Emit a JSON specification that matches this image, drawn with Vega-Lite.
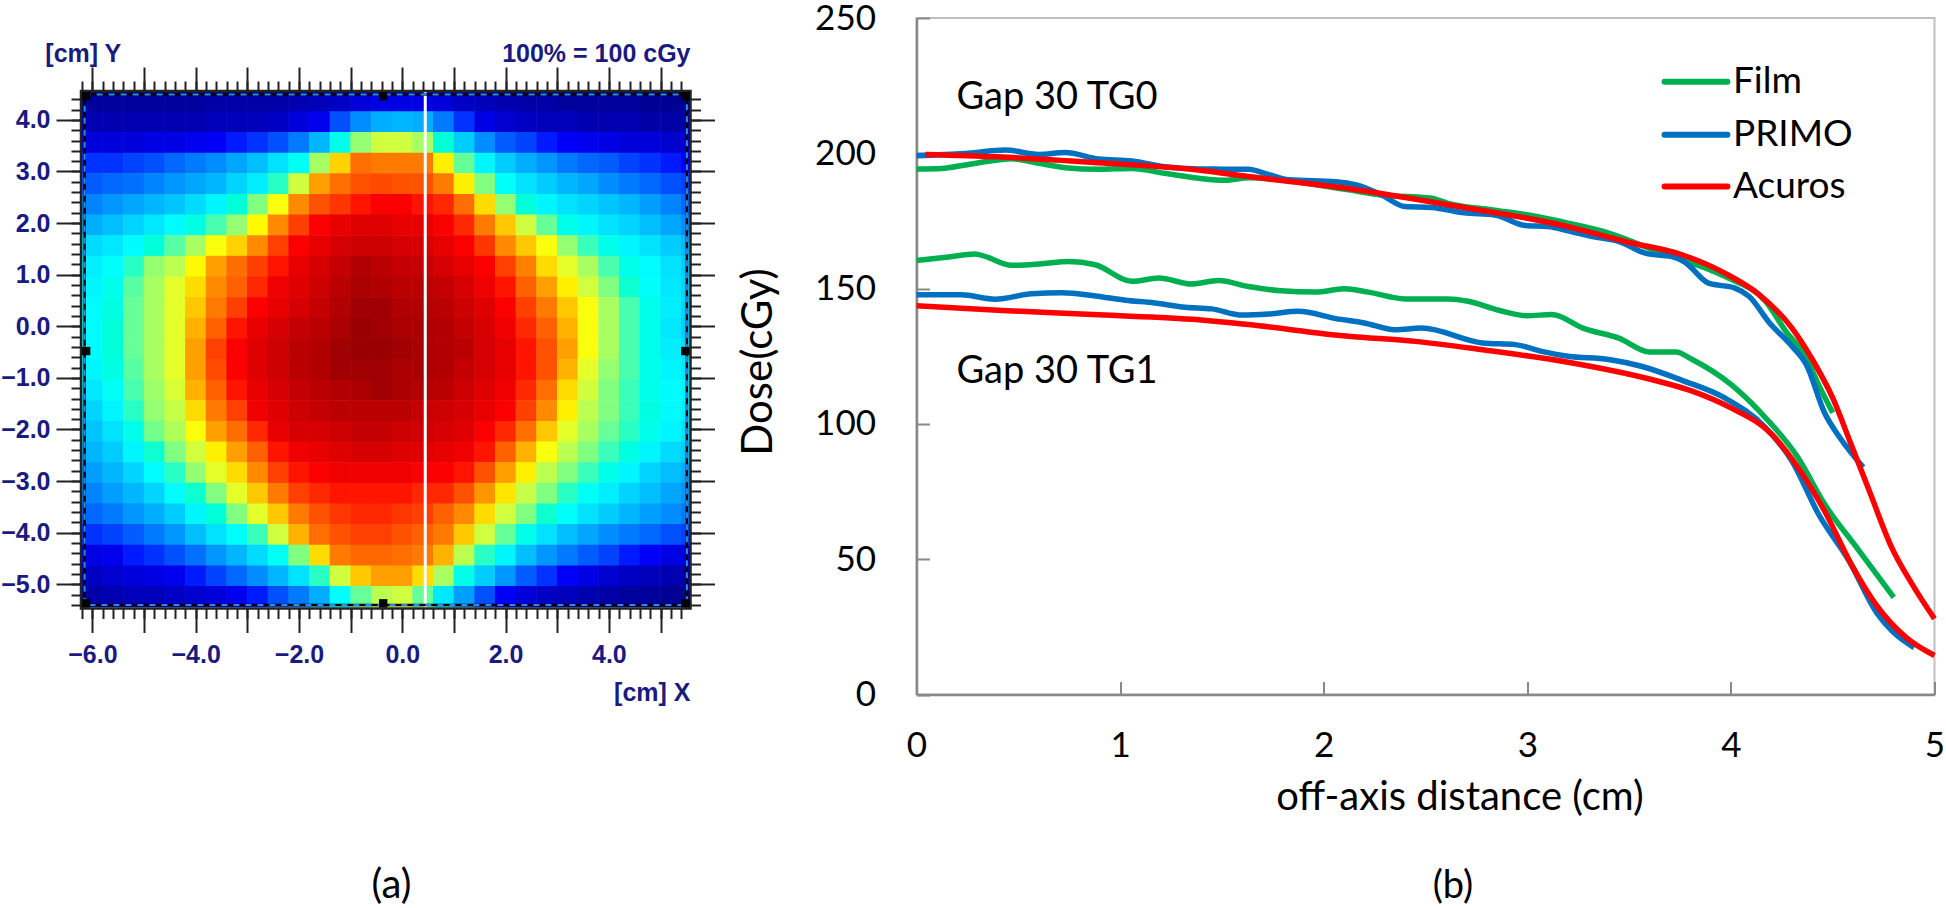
{"$schema":"https://vega.github.io/schema/vega-lite/v6.json","padding":0,"background":"white","bounds":"flush","spacing":835.5,"config":{"view":{"stroke":null},"axis":{"grid":false}},
"datasets":{"heat":[
{"x":-6,"y":4.36,"v":3},{"x":-5.6,"y":4.36,"v":3},{"x":-5.2,"y":4.36,"v":3},{"x":-4.8,"y":4.36,"v":3},{"x":-4.4,"y":4.36,"v":3},{"x":-4,"y":4.36,"v":3},{"x":-3.6,"y":4.36,"v":4},{"x":-3.2,"y":4.36,"v":4},{"x":-2.8,"y":4.36,"v":4},{"x":-2.4,"y":4.36,"v":4},{"x":-2,"y":4.36,"v":5},{"x":-1.6,"y":4.36,"v":6},{"x":-1.2,"y":4.36,"v":7},{"x":-0.8,"y":4.36,"v":9},{"x":-0.4,"y":4.36,"v":10},{"x":0,"y":4.36,"v":10},{"x":0.4,"y":4.36,"v":10},{"x":0.8,"y":4.36,"v":9},{"x":1.2,"y":4.36,"v":7},{"x":1.6,"y":4.36,"v":6},{"x":2,"y":4.36,"v":5},{"x":2.4,"y":4.36,"v":4},{"x":2.8,"y":4.36,"v":4},{"x":3.2,"y":4.36,"v":3},{"x":3.6,"y":4.36,"v":3},{"x":4,"y":4.36,"v":3},{"x":4.4,"y":4.36,"v":3},{"x":4.8,"y":4.36,"v":2},{"x":5.2,"y":4.36,"v":2},{"x":5.6,"y":4.36,"v":2},
{"x":-6,"y":3.96,"v":5},{"x":-5.6,"y":3.96,"v":5},{"x":-5.2,"y":3.96,"v":5},{"x":-4.8,"y":3.96,"v":5},{"x":-4.4,"y":3.96,"v":5},{"x":-4,"y":3.96,"v":5},{"x":-3.6,"y":3.96,"v":6},{"x":-3.2,"y":3.96,"v":6},{"x":-2.8,"y":3.96,"v":6},{"x":-2.4,"y":3.96,"v":7},{"x":-2,"y":3.96,"v":9},{"x":-1.6,"y":3.96,"v":11},{"x":-1.2,"y":3.96,"v":16},{"x":-0.8,"y":3.96,"v":22},{"x":-0.4,"y":3.96,"v":26},{"x":0,"y":3.96,"v":27},{"x":0.4,"y":3.96,"v":26},{"x":0.8,"y":3.96,"v":20},{"x":1.2,"y":3.96,"v":14},{"x":1.6,"y":3.96,"v":10},{"x":2,"y":3.96,"v":8},{"x":2.4,"y":3.96,"v":7},{"x":2.8,"y":3.96,"v":6},{"x":3.2,"y":3.96,"v":6},{"x":3.6,"y":3.96,"v":5},{"x":4,"y":3.96,"v":5},{"x":4.4,"y":3.96,"v":5},{"x":4.8,"y":3.96,"v":4},{"x":5.2,"y":3.96,"v":4},{"x":5.6,"y":3.96,"v":4},
{"x":-6,"y":3.56,"v":9},{"x":-5.6,"y":3.56,"v":9},{"x":-5.2,"y":3.56,"v":9},{"x":-4.8,"y":3.56,"v":10},{"x":-4.4,"y":3.56,"v":10},{"x":-4,"y":3.56,"v":11},{"x":-3.6,"y":3.56,"v":12},{"x":-3.2,"y":3.56,"v":13},{"x":-2.8,"y":3.56,"v":14},{"x":-2.4,"y":3.56,"v":16},{"x":-2,"y":3.56,"v":20},{"x":-1.6,"y":3.56,"v":27},{"x":-1.2,"y":3.56,"v":40},{"x":-0.8,"y":3.56,"v":52},{"x":-0.4,"y":3.56,"v":58},{"x":0,"y":3.56,"v":58},{"x":0.4,"y":3.56,"v":54},{"x":0.8,"y":3.56,"v":42},{"x":1.2,"y":3.56,"v":30},{"x":1.6,"y":3.56,"v":22},{"x":2,"y":3.56,"v":17},{"x":2.4,"y":3.56,"v":15},{"x":2.8,"y":3.56,"v":13},{"x":3.2,"y":3.56,"v":12},{"x":3.6,"y":3.56,"v":11},{"x":4,"y":3.56,"v":10},{"x":4.4,"y":3.56,"v":9},{"x":4.8,"y":3.56,"v":9},{"x":5.2,"y":3.56,"v":8},{"x":5.6,"y":3.56,"v":8},
{"x":-6,"y":3.16,"v":14},{"x":-5.6,"y":3.16,"v":14},{"x":-5.2,"y":3.16,"v":15},{"x":-4.8,"y":3.16,"v":16},{"x":-4.4,"y":3.16,"v":18},{"x":-4,"y":3.16,"v":20},{"x":-3.6,"y":3.16,"v":22},{"x":-3.2,"y":3.16,"v":25},{"x":-2.8,"y":3.16,"v":28},{"x":-2.4,"y":3.16,"v":33},{"x":-2,"y":3.16,"v":39},{"x":-1.6,"y":3.16,"v":54},{"x":-1.2,"y":3.16,"v":67},{"x":-0.8,"y":3.16,"v":78},{"x":-0.4,"y":3.16,"v":76},{"x":0,"y":3.16,"v":76},{"x":0.4,"y":3.16,"v":76},{"x":0.8,"y":3.16,"v":64},{"x":1.2,"y":3.16,"v":48},{"x":1.6,"y":3.16,"v":36},{"x":2,"y":3.16,"v":30},{"x":2.4,"y":3.16,"v":26},{"x":2.8,"y":3.16,"v":23},{"x":3.2,"y":3.16,"v":20},{"x":3.6,"y":3.16,"v":18},{"x":4,"y":3.16,"v":17},{"x":4.4,"y":3.16,"v":15},{"x":4.8,"y":3.16,"v":14},{"x":5.2,"y":3.16,"v":13},{"x":5.6,"y":3.16,"v":12},
{"x":-6,"y":2.76,"v":17},{"x":-5.6,"y":2.76,"v":18},{"x":-5.2,"y":2.76,"v":19},{"x":-4.8,"y":2.76,"v":21},{"x":-4.4,"y":2.76,"v":23},{"x":-4,"y":2.76,"v":25},{"x":-3.6,"y":2.76,"v":27},{"x":-3.2,"y":2.76,"v":31},{"x":-2.8,"y":2.76,"v":35},{"x":-2.4,"y":2.76,"v":44},{"x":-2,"y":2.76,"v":58},{"x":-1.6,"y":2.76,"v":72},{"x":-1.2,"y":2.76,"v":78},{"x":-0.8,"y":2.76,"v":82},{"x":-0.4,"y":2.76,"v":83},{"x":0,"y":2.76,"v":82},{"x":0.4,"y":2.76,"v":82},{"x":0.8,"y":2.76,"v":76},{"x":1.2,"y":2.76,"v":64},{"x":1.6,"y":2.76,"v":50},{"x":2,"y":2.76,"v":38},{"x":2.4,"y":2.76,"v":33},{"x":2.8,"y":2.76,"v":30},{"x":3.2,"y":2.76,"v":27},{"x":3.6,"y":2.76,"v":25},{"x":4,"y":2.76,"v":22},{"x":4.4,"y":2.76,"v":20},{"x":4.8,"y":2.76,"v":18},{"x":5.2,"y":2.76,"v":16},{"x":5.6,"y":2.76,"v":15},
{"x":-6,"y":2.36,"v":21},{"x":-5.6,"y":2.36,"v":23},{"x":-5.2,"y":2.36,"v":25},{"x":-4.8,"y":2.36,"v":27},{"x":-4.4,"y":2.36,"v":29},{"x":-4,"y":2.36,"v":32},{"x":-3.6,"y":2.36,"v":36},{"x":-3.2,"y":2.36,"v":42},{"x":-2.8,"y":2.36,"v":50},{"x":-2.4,"y":2.36,"v":62},{"x":-2,"y":2.36,"v":74},{"x":-1.6,"y":2.36,"v":82},{"x":-1.2,"y":2.36,"v":85},{"x":-0.8,"y":2.36,"v":87},{"x":-0.4,"y":2.36,"v":88},{"x":0,"y":2.36,"v":88},{"x":0.4,"y":2.36,"v":87},{"x":0.8,"y":2.36,"v":86},{"x":1.2,"y":2.36,"v":78},{"x":1.6,"y":2.36,"v":66},{"x":2,"y":2.36,"v":52},{"x":2.4,"y":2.36,"v":42},{"x":2.8,"y":2.36,"v":36},{"x":3.2,"y":2.36,"v":33},{"x":3.6,"y":2.36,"v":31},{"x":4,"y":2.36,"v":29},{"x":4.4,"y":2.36,"v":27},{"x":4.8,"y":2.36,"v":24},{"x":5.2,"y":2.36,"v":21},{"x":5.6,"y":2.36,"v":18},
{"x":-6,"y":1.96,"v":26},{"x":-5.6,"y":1.96,"v":28},{"x":-5.2,"y":1.96,"v":31},{"x":-4.8,"y":1.96,"v":34},{"x":-4.4,"y":1.96,"v":37},{"x":-4,"y":1.96,"v":41},{"x":-3.6,"y":1.96,"v":46},{"x":-3.2,"y":1.96,"v":52},{"x":-2.8,"y":1.96,"v":63},{"x":-2.4,"y":1.96,"v":74},{"x":-2,"y":1.96,"v":84},{"x":-1.6,"y":1.96,"v":88},{"x":-1.2,"y":1.96,"v":90},{"x":-0.8,"y":1.96,"v":91},{"x":-0.4,"y":1.96,"v":91},{"x":0,"y":1.96,"v":90},{"x":0.4,"y":1.96,"v":90},{"x":0.8,"y":1.96,"v":88},{"x":1.2,"y":1.96,"v":86},{"x":1.6,"y":1.96,"v":76},{"x":2,"y":1.96,"v":68},{"x":2.4,"y":1.96,"v":58},{"x":2.8,"y":1.96,"v":48},{"x":3.2,"y":1.96,"v":40},{"x":3.6,"y":1.96,"v":36},{"x":4,"y":1.96,"v":33},{"x":4.4,"y":1.96,"v":31},{"x":4.8,"y":1.96,"v":28},{"x":5.2,"y":1.96,"v":25},{"x":5.6,"y":1.96,"v":22},
{"x":-6,"y":1.56,"v":32},{"x":-5.6,"y":1.56,"v":34},{"x":-5.2,"y":1.56,"v":37},{"x":-4.8,"y":1.56,"v":42},{"x":-4.4,"y":1.56,"v":47},{"x":-4,"y":1.56,"v":54},{"x":-3.6,"y":1.56,"v":62},{"x":-3.2,"y":1.56,"v":67},{"x":-2.8,"y":1.56,"v":74},{"x":-2.4,"y":1.56,"v":84},{"x":-2,"y":1.56,"v":88},{"x":-1.6,"y":1.56,"v":90},{"x":-1.2,"y":1.56,"v":92},{"x":-0.8,"y":1.56,"v":93},{"x":-0.4,"y":1.56,"v":93},{"x":0,"y":1.56,"v":92},{"x":0.4,"y":1.56,"v":92},{"x":0.8,"y":1.56,"v":90},{"x":1.2,"y":1.56,"v":88},{"x":1.6,"y":1.56,"v":85},{"x":2,"y":1.56,"v":74},{"x":2.4,"y":1.56,"v":68},{"x":2.8,"y":1.56,"v":62},{"x":3.2,"y":1.56,"v":52},{"x":3.6,"y":1.56,"v":45},{"x":4,"y":1.56,"v":40},{"x":4.4,"y":1.56,"v":36},{"x":4.8,"y":1.56,"v":33},{"x":5.2,"y":1.56,"v":30},{"x":5.6,"y":1.56,"v":27},
{"x":-6,"y":1.16,"v":35},{"x":-5.6,"y":1.16,"v":38},{"x":-5.2,"y":1.16,"v":44},{"x":-4.8,"y":1.16,"v":52},{"x":-4.4,"y":1.16,"v":56},{"x":-4,"y":1.16,"v":63},{"x":-3.6,"y":1.16,"v":72},{"x":-3.2,"y":1.16,"v":78},{"x":-2.8,"y":1.16,"v":84},{"x":-2.4,"y":1.16,"v":87},{"x":-2,"y":1.16,"v":90},{"x":-1.6,"y":1.16,"v":92},{"x":-1.2,"y":1.16,"v":94},{"x":-0.8,"y":1.16,"v":96},{"x":-0.4,"y":1.16,"v":95},{"x":0,"y":1.16,"v":94},{"x":0.4,"y":1.16,"v":94},{"x":0.8,"y":1.16,"v":92},{"x":1.2,"y":1.16,"v":90},{"x":1.6,"y":1.16,"v":88},{"x":2,"y":1.16,"v":84},{"x":2.4,"y":1.16,"v":75},{"x":2.8,"y":1.16,"v":66},{"x":3.2,"y":1.16,"v":60},{"x":3.6,"y":1.16,"v":54},{"x":4,"y":1.16,"v":46},{"x":4.4,"y":1.16,"v":40},{"x":4.8,"y":1.16,"v":37},{"x":5.2,"y":1.16,"v":33},{"x":5.6,"y":1.16,"v":30},
{"x":-6,"y":0.76,"v":36},{"x":-5.6,"y":0.76,"v":40},{"x":-5.2,"y":0.76,"v":47},{"x":-4.8,"y":0.76,"v":54},{"x":-4.4,"y":0.76,"v":60},{"x":-4,"y":0.76,"v":66},{"x":-3.6,"y":0.76,"v":74},{"x":-3.2,"y":0.76,"v":80},{"x":-2.8,"y":0.76,"v":86},{"x":-2.4,"y":0.76,"v":89},{"x":-2,"y":0.76,"v":91},{"x":-1.6,"y":0.76,"v":93},{"x":-1.2,"y":0.76,"v":95},{"x":-0.8,"y":0.76,"v":97},{"x":-0.4,"y":0.76,"v":96},{"x":0,"y":0.76,"v":95},{"x":0.4,"y":0.76,"v":95},{"x":0.8,"y":0.76,"v":94},{"x":1.2,"y":0.76,"v":92},{"x":1.6,"y":0.76,"v":89},{"x":2,"y":0.76,"v":87},{"x":2.4,"y":0.76,"v":80},{"x":2.8,"y":0.76,"v":72},{"x":3.2,"y":0.76,"v":64},{"x":3.6,"y":0.76,"v":58},{"x":4,"y":0.76,"v":50},{"x":4.4,"y":0.76,"v":43},{"x":4.8,"y":0.76,"v":38},{"x":5.2,"y":0.76,"v":34},{"x":5.6,"y":0.76,"v":31},
{"x":-6,"y":0.36,"v":37},{"x":-5.6,"y":0.36,"v":41},{"x":-5.2,"y":0.36,"v":48},{"x":-4.8,"y":0.36,"v":54},{"x":-4.4,"y":0.36,"v":60},{"x":-4,"y":0.36,"v":68},{"x":-3.6,"y":0.36,"v":76},{"x":-3.2,"y":0.36,"v":84},{"x":-2.8,"y":0.36,"v":88},{"x":-2.4,"y":0.36,"v":90},{"x":-2,"y":0.36,"v":92},{"x":-1.6,"y":0.36,"v":94},{"x":-1.2,"y":0.36,"v":96},{"x":-0.8,"y":0.36,"v":98},{"x":-0.4,"y":0.36,"v":98},{"x":0,"y":0.36,"v":96},{"x":0.4,"y":0.36,"v":96},{"x":0.8,"y":0.36,"v":95},{"x":1.2,"y":0.36,"v":93},{"x":1.6,"y":0.36,"v":91},{"x":2,"y":0.36,"v":88},{"x":2.4,"y":0.36,"v":84},{"x":2.8,"y":0.36,"v":76},{"x":3.2,"y":0.36,"v":68},{"x":3.6,"y":0.36,"v":62},{"x":4,"y":0.36,"v":54},{"x":4.4,"y":0.36,"v":46},{"x":4.8,"y":0.36,"v":40},{"x":5.2,"y":0.36,"v":35},{"x":5.6,"y":0.36,"v":31},
{"x":-6,"y":-0.04,"v":37},{"x":-5.6,"y":-0.04,"v":42},{"x":-5.2,"y":-0.04,"v":48},{"x":-4.8,"y":-0.04,"v":54},{"x":-4.4,"y":-0.04,"v":60},{"x":-4,"y":-0.04,"v":70},{"x":-3.6,"y":-0.04,"v":80},{"x":-3.2,"y":-0.04,"v":87},{"x":-2.8,"y":-0.04,"v":90},{"x":-2.4,"y":-0.04,"v":92},{"x":-2,"y":-0.04,"v":94},{"x":-1.6,"y":-0.04,"v":95},{"x":-1.2,"y":-0.04,"v":97},{"x":-0.8,"y":-0.04,"v":99},{"x":-0.4,"y":-0.04,"v":98},{"x":0,"y":-0.04,"v":97},{"x":0.4,"y":-0.04,"v":97},{"x":0.8,"y":-0.04,"v":96},{"x":1.2,"y":-0.04,"v":94},{"x":1.6,"y":-0.04,"v":92},{"x":2,"y":-0.04,"v":89},{"x":2.4,"y":-0.04,"v":86},{"x":2.8,"y":-0.04,"v":80},{"x":3.2,"y":-0.04,"v":70},{"x":3.6,"y":-0.04,"v":62},{"x":4,"y":-0.04,"v":54},{"x":4.4,"y":-0.04,"v":46},{"x":4.8,"y":-0.04,"v":40},{"x":5.2,"y":-0.04,"v":34},{"x":5.6,"y":-0.04,"v":30},
{"x":-6,"y":-0.44,"v":37},{"x":-5.6,"y":-0.44,"v":42},{"x":-5.2,"y":-0.44,"v":48},{"x":-4.8,"y":-0.44,"v":54},{"x":-4.4,"y":-0.44,"v":60},{"x":-4,"y":-0.44,"v":72},{"x":-3.6,"y":-0.44,"v":84},{"x":-3.2,"y":-0.44,"v":88},{"x":-2.8,"y":-0.44,"v":91},{"x":-2.4,"y":-0.44,"v":93},{"x":-2,"y":-0.44,"v":95},{"x":-1.6,"y":-0.44,"v":96},{"x":-1.2,"y":-0.44,"v":98},{"x":-0.8,"y":-0.44,"v":99},{"x":-0.4,"y":-0.44,"v":99},{"x":0,"y":-0.44,"v":98},{"x":0.4,"y":-0.44,"v":97},{"x":0.8,"y":-0.44,"v":96},{"x":1.2,"y":-0.44,"v":95},{"x":1.6,"y":-0.44,"v":92},{"x":2,"y":-0.44,"v":90},{"x":2.4,"y":-0.44,"v":87},{"x":2.8,"y":-0.44,"v":82},{"x":3.2,"y":-0.44,"v":72},{"x":3.6,"y":-0.44,"v":62},{"x":4,"y":-0.44,"v":54},{"x":4.4,"y":-0.44,"v":46},{"x":4.8,"y":-0.44,"v":40},{"x":5.2,"y":-0.44,"v":35},{"x":5.6,"y":-0.44,"v":32},
{"x":-6,"y":-0.84,"v":36},{"x":-5.6,"y":-0.84,"v":41},{"x":-5.2,"y":-0.84,"v":47},{"x":-4.8,"y":-0.84,"v":54},{"x":-4.4,"y":-0.84,"v":60},{"x":-4,"y":-0.84,"v":72},{"x":-3.6,"y":-0.84,"v":83},{"x":-3.2,"y":-0.84,"v":88},{"x":-2.8,"y":-0.84,"v":91},{"x":-2.4,"y":-0.84,"v":93},{"x":-2,"y":-0.84,"v":95},{"x":-1.6,"y":-0.84,"v":96},{"x":-1.2,"y":-0.84,"v":98},{"x":-0.8,"y":-0.84,"v":98},{"x":-0.4,"y":-0.84,"v":98},{"x":0,"y":-0.84,"v":97},{"x":0.4,"y":-0.84,"v":97},{"x":0.8,"y":-0.84,"v":96},{"x":1.2,"y":-0.84,"v":94},{"x":1.6,"y":-0.84,"v":92},{"x":2,"y":-0.84,"v":90},{"x":2.4,"y":-0.84,"v":87},{"x":2.8,"y":-0.84,"v":82},{"x":3.2,"y":-0.84,"v":70},{"x":3.6,"y":-0.84,"v":60},{"x":4,"y":-0.84,"v":52},{"x":4.4,"y":-0.84,"v":46},{"x":4.8,"y":-0.84,"v":40},{"x":5.2,"y":-0.84,"v":36},{"x":5.6,"y":-0.84,"v":34},
{"x":-6,"y":-1.24,"v":34},{"x":-5.6,"y":-1.24,"v":39},{"x":-5.2,"y":-1.24,"v":46},{"x":-4.8,"y":-1.24,"v":53},{"x":-4.4,"y":-1.24,"v":59},{"x":-4,"y":-1.24,"v":70},{"x":-3.6,"y":-1.24,"v":80},{"x":-3.2,"y":-1.24,"v":87},{"x":-2.8,"y":-1.24,"v":90},{"x":-2.4,"y":-1.24,"v":92},{"x":-2,"y":-1.24,"v":94},{"x":-1.6,"y":-1.24,"v":95},{"x":-1.2,"y":-1.24,"v":96},{"x":-0.8,"y":-1.24,"v":97},{"x":-0.4,"y":-1.24,"v":98},{"x":0,"y":-1.24,"v":97},{"x":0.4,"y":-1.24,"v":96},{"x":0.8,"y":-1.24,"v":95},{"x":1.2,"y":-1.24,"v":93},{"x":1.6,"y":-1.24,"v":91},{"x":2,"y":-1.24,"v":89},{"x":2.4,"y":-1.24,"v":86},{"x":2.8,"y":-1.24,"v":78},{"x":3.2,"y":-1.24,"v":66},{"x":3.6,"y":-1.24,"v":58},{"x":4,"y":-1.24,"v":50},{"x":4.4,"y":-1.24,"v":45},{"x":4.8,"y":-1.24,"v":40},{"x":5.2,"y":-1.24,"v":37},{"x":5.6,"y":-1.24,"v":36},
{"x":-6,"y":-1.64,"v":31},{"x":-5.6,"y":-1.64,"v":36},{"x":-5.2,"y":-1.64,"v":44},{"x":-4.8,"y":-1.64,"v":52},{"x":-4.4,"y":-1.64,"v":57},{"x":-4,"y":-1.64,"v":66},{"x":-3.6,"y":-1.64,"v":76},{"x":-3.2,"y":-1.64,"v":84},{"x":-2.8,"y":-1.64,"v":89},{"x":-2.4,"y":-1.64,"v":91},{"x":-2,"y":-1.64,"v":93},{"x":-1.6,"y":-1.64,"v":94},{"x":-1.2,"y":-1.64,"v":95},{"x":-0.8,"y":-1.64,"v":95},{"x":-0.4,"y":-1.64,"v":95},{"x":0,"y":-1.64,"v":95},{"x":0.4,"y":-1.64,"v":94},{"x":0.8,"y":-1.64,"v":93},{"x":1.2,"y":-1.64,"v":92},{"x":1.6,"y":-1.64,"v":90},{"x":2,"y":-1.64,"v":88},{"x":2.4,"y":-1.64,"v":84},{"x":2.8,"y":-1.64,"v":74},{"x":3.2,"y":-1.64,"v":64},{"x":3.6,"y":-1.64,"v":56},{"x":4,"y":-1.64,"v":50},{"x":4.4,"y":-1.64,"v":45},{"x":4.8,"y":-1.64,"v":41},{"x":5.2,"y":-1.64,"v":37},{"x":5.6,"y":-1.64,"v":35},
{"x":-6,"y":-2.04,"v":29},{"x":-5.6,"y":-2.04,"v":33},{"x":-5.2,"y":-2.04,"v":40},{"x":-4.8,"y":-2.04,"v":49},{"x":-4.4,"y":-2.04,"v":55},{"x":-4,"y":-2.04,"v":62},{"x":-3.6,"y":-2.04,"v":72},{"x":-3.2,"y":-2.04,"v":78},{"x":-2.8,"y":-2.04,"v":86},{"x":-2.4,"y":-2.04,"v":90},{"x":-2,"y":-2.04,"v":92},{"x":-1.6,"y":-2.04,"v":92},{"x":-1.2,"y":-2.04,"v":93},{"x":-0.8,"y":-2.04,"v":94},{"x":-0.4,"y":-2.04,"v":94},{"x":0,"y":-2.04,"v":93},{"x":0.4,"y":-2.04,"v":93},{"x":0.8,"y":-2.04,"v":92},{"x":1.2,"y":-2.04,"v":91},{"x":1.6,"y":-2.04,"v":88},{"x":2,"y":-2.04,"v":86},{"x":2.4,"y":-2.04,"v":78},{"x":2.8,"y":-2.04,"v":68},{"x":3.2,"y":-2.04,"v":60},{"x":3.6,"y":-2.04,"v":54},{"x":4,"y":-2.04,"v":48},{"x":4.4,"y":-2.04,"v":44},{"x":4.8,"y":-2.04,"v":40},{"x":5.2,"y":-2.04,"v":36},{"x":5.6,"y":-2.04,"v":33},
{"x":-6,"y":-2.44,"v":27},{"x":-5.6,"y":-2.44,"v":30},{"x":-5.2,"y":-2.44,"v":36},{"x":-4.8,"y":-2.44,"v":43},{"x":-4.4,"y":-2.44,"v":50},{"x":-4,"y":-2.44,"v":58},{"x":-3.6,"y":-2.44,"v":64},{"x":-3.2,"y":-2.44,"v":72},{"x":-2.8,"y":-2.44,"v":80},{"x":-2.4,"y":-2.44,"v":87},{"x":-2,"y":-2.44,"v":89},{"x":-1.6,"y":-2.44,"v":90},{"x":-1.2,"y":-2.44,"v":91},{"x":-0.8,"y":-2.44,"v":92},{"x":-0.4,"y":-2.44,"v":92},{"x":0,"y":-2.44,"v":91},{"x":0.4,"y":-2.44,"v":91},{"x":0.8,"y":-2.44,"v":90},{"x":1.2,"y":-2.44,"v":89},{"x":1.6,"y":-2.44,"v":87},{"x":2,"y":-2.44,"v":80},{"x":2.4,"y":-2.44,"v":70},{"x":2.8,"y":-2.44,"v":62},{"x":3.2,"y":-2.44,"v":56},{"x":3.6,"y":-2.44,"v":50},{"x":4,"y":-2.44,"v":45},{"x":4.4,"y":-2.44,"v":41},{"x":4.8,"y":-2.44,"v":36},{"x":5.2,"y":-2.44,"v":32},{"x":5.6,"y":-2.44,"v":30},
{"x":-6,"y":-2.84,"v":24},{"x":-5.6,"y":-2.84,"v":27},{"x":-5.2,"y":-2.84,"v":31},{"x":-4.8,"y":-2.84,"v":37},{"x":-4.4,"y":-2.84,"v":44},{"x":-4,"y":-2.84,"v":52},{"x":-3.6,"y":-2.84,"v":60},{"x":-3.2,"y":-2.84,"v":66},{"x":-2.8,"y":-2.84,"v":74},{"x":-2.4,"y":-2.84,"v":84},{"x":-2,"y":-2.84,"v":87},{"x":-1.6,"y":-2.84,"v":88},{"x":-1.2,"y":-2.84,"v":89},{"x":-0.8,"y":-2.84,"v":89},{"x":-0.4,"y":-2.84,"v":89},{"x":0,"y":-2.84,"v":89},{"x":0.4,"y":-2.84,"v":88},{"x":0.8,"y":-2.84,"v":88},{"x":1.2,"y":-2.84,"v":87},{"x":1.6,"y":-2.84,"v":82},{"x":2,"y":-2.84,"v":72},{"x":2.4,"y":-2.84,"v":64},{"x":2.8,"y":-2.84,"v":56},{"x":3.2,"y":-2.84,"v":50},{"x":3.6,"y":-2.84,"v":45},{"x":4,"y":-2.84,"v":40},{"x":4.4,"y":-2.84,"v":36},{"x":4.8,"y":-2.84,"v":31},{"x":5.2,"y":-2.84,"v":28},{"x":5.6,"y":-2.84,"v":26},
{"x":-6,"y":-3.24,"v":21},{"x":-5.6,"y":-3.24,"v":24},{"x":-5.2,"y":-3.24,"v":27},{"x":-4.8,"y":-3.24,"v":31},{"x":-4.4,"y":-3.24,"v":37},{"x":-4,"y":-3.24,"v":43},{"x":-3.6,"y":-3.24,"v":50},{"x":-3.2,"y":-3.24,"v":60},{"x":-2.8,"y":-3.24,"v":68},{"x":-2.4,"y":-3.24,"v":76},{"x":-2,"y":-3.24,"v":84},{"x":-1.6,"y":-3.24,"v":86},{"x":-1.2,"y":-3.24,"v":87},{"x":-0.8,"y":-3.24,"v":87},{"x":-0.4,"y":-3.24,"v":87},{"x":0,"y":-3.24,"v":87},{"x":0.4,"y":-3.24,"v":86},{"x":0.8,"y":-3.24,"v":86},{"x":1.2,"y":-3.24,"v":82},{"x":1.6,"y":-3.24,"v":73},{"x":2,"y":-3.24,"v":65},{"x":2.4,"y":-3.24,"v":57},{"x":2.8,"y":-3.24,"v":50},{"x":3.2,"y":-3.24,"v":44},{"x":3.6,"y":-3.24,"v":39},{"x":4,"y":-3.24,"v":35},{"x":4.4,"y":-3.24,"v":31},{"x":4.8,"y":-3.24,"v":28},{"x":5.2,"y":-3.24,"v":25},{"x":5.6,"y":-3.24,"v":23},
{"x":-6,"y":-3.64,"v":18},{"x":-5.6,"y":-3.64,"v":20},{"x":-5.2,"y":-3.64,"v":23},{"x":-4.8,"y":-3.64,"v":26},{"x":-4.4,"y":-3.64,"v":30},{"x":-4,"y":-3.64,"v":36},{"x":-3.6,"y":-3.64,"v":42},{"x":-3.2,"y":-3.64,"v":50},{"x":-2.8,"y":-3.64,"v":60},{"x":-2.4,"y":-3.64,"v":68},{"x":-2,"y":-3.64,"v":76},{"x":-1.6,"y":-3.64,"v":82},{"x":-1.2,"y":-3.64,"v":85},{"x":-0.8,"y":-3.64,"v":86},{"x":-0.4,"y":-3.64,"v":86},{"x":0,"y":-3.64,"v":85},{"x":0.4,"y":-3.64,"v":84},{"x":0.8,"y":-3.64,"v":80},{"x":1.2,"y":-3.64,"v":74},{"x":1.6,"y":-3.64,"v":66},{"x":2,"y":-3.64,"v":58},{"x":2.4,"y":-3.64,"v":50},{"x":2.8,"y":-3.64,"v":43},{"x":3.2,"y":-3.64,"v":38},{"x":3.6,"y":-3.64,"v":33},{"x":4,"y":-3.64,"v":30},{"x":4.4,"y":-3.64,"v":27},{"x":4.8,"y":-3.64,"v":24},{"x":5.2,"y":-3.64,"v":22},{"x":5.6,"y":-3.64,"v":20},
{"x":-6,"y":-4.04,"v":14},{"x":-5.6,"y":-4.04,"v":15},{"x":-5.2,"y":-4.04,"v":17},{"x":-4.8,"y":-4.04,"v":20},{"x":-4.4,"y":-4.04,"v":23},{"x":-4,"y":-4.04,"v":28},{"x":-3.6,"y":-4.04,"v":33},{"x":-3.2,"y":-4.04,"v":38},{"x":-2.8,"y":-4.04,"v":45},{"x":-2.4,"y":-4.04,"v":58},{"x":-2,"y":-4.04,"v":70},{"x":-1.6,"y":-4.04,"v":78},{"x":-1.2,"y":-4.04,"v":82},{"x":-0.8,"y":-4.04,"v":84},{"x":-0.4,"y":-4.04,"v":84},{"x":0,"y":-4.04,"v":82},{"x":0.4,"y":-4.04,"v":80},{"x":0.8,"y":-4.04,"v":76},{"x":1.2,"y":-4.04,"v":68},{"x":1.6,"y":-4.04,"v":58},{"x":2,"y":-4.04,"v":48},{"x":2.4,"y":-4.04,"v":40},{"x":2.8,"y":-4.04,"v":33},{"x":3.2,"y":-4.04,"v":28},{"x":3.6,"y":-4.04,"v":25},{"x":4,"y":-4.04,"v":22},{"x":4.4,"y":-4.04,"v":20},{"x":4.8,"y":-4.04,"v":18},{"x":5.2,"y":-4.04,"v":16},{"x":5.6,"y":-4.04,"v":15},
{"x":-6,"y":-4.44,"v":10},{"x":-5.6,"y":-4.44,"v":11},{"x":-5.2,"y":-4.44,"v":13},{"x":-4.8,"y":-4.44,"v":14},{"x":-4.4,"y":-4.44,"v":16},{"x":-4,"y":-4.44,"v":19},{"x":-3.6,"y":-4.44,"v":23},{"x":-3.2,"y":-4.44,"v":27},{"x":-2.8,"y":-4.44,"v":32},{"x":-2.4,"y":-4.44,"v":39},{"x":-2,"y":-4.44,"v":50},{"x":-1.6,"y":-4.44,"v":66},{"x":-1.2,"y":-4.44,"v":76},{"x":-0.8,"y":-4.44,"v":79},{"x":-0.4,"y":-4.44,"v":79},{"x":0,"y":-4.44,"v":78},{"x":0.4,"y":-4.44,"v":76},{"x":0.8,"y":-4.44,"v":70},{"x":1.2,"y":-4.44,"v":56},{"x":1.6,"y":-4.44,"v":44},{"x":2,"y":-4.44,"v":36},{"x":2.4,"y":-4.44,"v":28},{"x":2.8,"y":-4.44,"v":23},{"x":3.2,"y":-4.44,"v":20},{"x":3.6,"y":-4.44,"v":17},{"x":4,"y":-4.44,"v":15},{"x":4.4,"y":-4.44,"v":13},{"x":4.8,"y":-4.44,"v":12},{"x":5.2,"y":-4.44,"v":10},{"x":5.6,"y":-4.44,"v":9},
{"x":-6,"y":-4.84,"v":7},{"x":-5.6,"y":-4.84,"v":8},{"x":-5.2,"y":-4.84,"v":9},{"x":-4.8,"y":-4.84,"v":10},{"x":-4.4,"y":-4.84,"v":11},{"x":-4,"y":-4.84,"v":13},{"x":-3.6,"y":-4.84,"v":15},{"x":-3.2,"y":-4.84,"v":18},{"x":-2.8,"y":-4.84,"v":22},{"x":-2.4,"y":-4.84,"v":27},{"x":-2,"y":-4.84,"v":33},{"x":-1.6,"y":-4.84,"v":44},{"x":-1.2,"y":-4.84,"v":58},{"x":-0.8,"y":-4.84,"v":68},{"x":-0.4,"y":-4.84,"v":72},{"x":0,"y":-4.84,"v":72},{"x":0.4,"y":-4.84,"v":66},{"x":0.8,"y":-4.84,"v":54},{"x":1.2,"y":-4.84,"v":40},{"x":1.6,"y":-4.84,"v":30},{"x":2,"y":-4.84,"v":23},{"x":2.4,"y":-4.84,"v":17},{"x":2.8,"y":-4.84,"v":14},{"x":3.2,"y":-4.84,"v":12},{"x":3.6,"y":-4.84,"v":10},{"x":4,"y":-4.84,"v":8},{"x":4.4,"y":-4.84,"v":7},{"x":4.8,"y":-4.84,"v":6},{"x":5.2,"y":-4.84,"v":5},{"x":5.6,"y":-4.84,"v":4},
{"x":-6,"y":-5.24,"v":4},{"x":-5.6,"y":-5.24,"v":5},{"x":-5.2,"y":-5.24,"v":6},{"x":-4.8,"y":-5.24,"v":6},{"x":-4.4,"y":-5.24,"v":7},{"x":-4,"y":-5.24,"v":8},{"x":-3.6,"y":-5.24,"v":9},{"x":-3.2,"y":-5.24,"v":11},{"x":-2.8,"y":-5.24,"v":13},{"x":-2.4,"y":-5.24,"v":16},{"x":-2,"y":-5.24,"v":20},{"x":-1.6,"y":-5.24,"v":26},{"x":-1.2,"y":-5.24,"v":38},{"x":-0.8,"y":-5.24,"v":48},{"x":-0.4,"y":-5.24,"v":56},{"x":0,"y":-5.24,"v":58},{"x":0.4,"y":-5.24,"v":48},{"x":0.8,"y":-5.24,"v":34},{"x":1.2,"y":-5.24,"v":24},{"x":1.6,"y":-5.24,"v":16},{"x":2,"y":-5.24,"v":12},{"x":2.4,"y":-5.24,"v":9},{"x":2.8,"y":-5.24,"v":7},{"x":3.2,"y":-5.24,"v":6},{"x":3.6,"y":-5.24,"v":5},{"x":4,"y":-5.24,"v":4},{"x":4.4,"y":-5.24,"v":3},{"x":4.8,"y":-5.24,"v":3},{"x":5.2,"y":-5.24,"v":2},{"x":5.6,"y":-5.24,"v":1}
],
"curves":[
{"c":"Film","g":"TG0","x":0,"y":194.2},{"c":"Film","g":"TG0","x":0.125,"y":194.4},{"c":"Film","g":"TG0","x":0.24,"y":195.7},{"c":"Film","g":"TG0","x":0.4,"y":197.5},{"c":"Film","g":"TG0","x":0.467,"y":198},{"c":"Film","g":"TG0","x":0.6,"y":196.3},{"c":"Film","g":"TG0","x":0.73,"y":194.7},{"c":"Film","g":"TG0","x":0.894,"y":194.1},{"c":"Film","g":"TG0","x":1.058,"y":194.4},{"c":"Film","g":"TG0","x":1.22,"y":192.6},{"c":"Film","g":"TG0","x":1.385,"y":190.8},{"c":"Film","g":"TG0","x":1.516,"y":190},{"c":"Film","g":"TG0","x":1.63,"y":191},{"c":"Film","g":"TG0","x":2.12,"y":186.5},{"c":"Film","g":"TG0","x":2.285,"y":184.6},{"c":"Film","g":"TG0","x":2.53,"y":183.4},{"c":"Film","g":"TG0","x":2.61,"y":181.5},{"c":"Film","g":"TG0","x":2.84,"y":179},{"c":"Film","g":"TG0","x":3.02,"y":177},{"c":"Film","g":"TG0","x":3.2,"y":174.2},{"c":"Film","g":"TG0","x":3.4,"y":170.5},{"c":"Film","g":"TG0","x":3.64,"y":163.7},{"c":"Film","g":"TG0","x":3.97,"y":154.5},{"c":"Film","g":"TG0","x":4.17,"y":145.3},{"c":"Film","g":"TG0","x":4.27,"y":134.2},{"c":"Film","g":"TG0","x":4.37,"y":124.4},{"c":"Film","g":"TG0","x":4.43,"y":114.6},{"c":"Film","g":"TG0","x":4.5,"y":104.1},
{"c":"Film","g":"TG1","x":0,"y":160.4},{"c":"Film","g":"TG1","x":0.157,"y":161.7},{"c":"Film","g":"TG1","x":0.288,"y":162.8},{"c":"Film","g":"TG1","x":0.337,"y":161.9},{"c":"Film","g":"TG1","x":0.467,"y":158.6},{"c":"Film","g":"TG1","x":0.615,"y":159.2},{"c":"Film","g":"TG1","x":0.747,"y":160},{"c":"Film","g":"TG1","x":0.878,"y":158.8},{"c":"Film","g":"TG1","x":1.058,"y":152.7},{"c":"Film","g":"TG1","x":1.19,"y":153.9},{"c":"Film","g":"TG1","x":1.35,"y":151.7},{"c":"Film","g":"TG1","x":1.483,"y":153},{"c":"Film","g":"TG1","x":1.63,"y":150.8},{"c":"Film","g":"TG1","x":1.79,"y":149.2},{"c":"Film","g":"TG1","x":1.96,"y":148.7},{"c":"Film","g":"TG1","x":2.1,"y":149.9},{"c":"Film","g":"TG1","x":2.22,"y":148.7},{"c":"Film","g":"TG1","x":2.4,"y":146.2},{"c":"Film","g":"TG1","x":2.61,"y":146.2},{"c":"Film","g":"TG1","x":2.71,"y":145.3},{"c":"Film","g":"TG1","x":2.86,"y":142},{"c":"Film","g":"TG1","x":3,"y":140},{"c":"Film","g":"TG1","x":3.12,"y":140.4},{"c":"Film","g":"TG1","x":3.28,"y":135.2},{"c":"Film","g":"TG1","x":3.45,"y":131.7},{"c":"Film","g":"TG1","x":3.6,"y":126.6},{"c":"Film","g":"TG1","x":3.73,"y":126.6},{"c":"Film","g":"TG1","x":3.81,"y":123.8},{"c":"Film","g":"TG1","x":4,"y":114.6},{"c":"Film","g":"TG1","x":4.14,"y":104.7},{"c":"Film","g":"TG1","x":4.33,"y":87.5},{"c":"Film","g":"TG1","x":4.46,"y":70.4},{"c":"Film","g":"TG1","x":4.63,"y":53.1},{"c":"Film","g":"TG1","x":4.8,"y":35.9},
{"c":"PRIMO","g":"TG0","x":0,"y":199.1},{"c":"PRIMO","g":"TG0","x":0.24,"y":199.9},{"c":"PRIMO","g":"TG0","x":0.436,"y":201.2},{"c":"PRIMO","g":"TG0","x":0.6,"y":199.6},{"c":"PRIMO","g":"TG0","x":0.73,"y":200.3},{"c":"PRIMO","g":"TG0","x":0.894,"y":197.9},{"c":"PRIMO","g":"TG0","x":1.058,"y":197.2},{"c":"PRIMO","g":"TG0","x":1.22,"y":195},{"c":"PRIMO","g":"TG0","x":1.385,"y":194.2},{"c":"PRIMO","g":"TG0","x":1.63,"y":194.1},{"c":"PRIMO","g":"TG0","x":1.71,"y":192.6},{"c":"PRIMO","g":"TG0","x":1.83,"y":190.2},{"c":"PRIMO","g":"TG0","x":2.06,"y":189.5},{"c":"PRIMO","g":"TG0","x":2.16,"y":188.3},{"c":"PRIMO","g":"TG0","x":2.285,"y":184.6},{"c":"PRIMO","g":"TG0","x":2.4,"y":180.3},{"c":"PRIMO","g":"TG0","x":2.53,"y":180},{"c":"PRIMO","g":"TG0","x":2.69,"y":178},{"c":"PRIMO","g":"TG0","x":2.84,"y":177.2},{"c":"PRIMO","g":"TG0","x":2.99,"y":173.3},{"c":"PRIMO","g":"TG0","x":3.1,"y":172.9},{"c":"PRIMO","g":"TG0","x":3.2,"y":171.4},{"c":"PRIMO","g":"TG0","x":3.32,"y":169.2},{"c":"PRIMO","g":"TG0","x":3.45,"y":167.4},{"c":"PRIMO","g":"TG0","x":3.58,"y":163.1},{"c":"PRIMO","g":"TG0","x":3.73,"y":161.5},{"c":"PRIMO","g":"TG0","x":3.78,"y":159.4},{"c":"PRIMO","g":"TG0","x":3.89,"y":152},{"c":"PRIMO","g":"TG0","x":4.02,"y":150.2},{"c":"PRIMO","g":"TG0","x":4.09,"y":147.1},{"c":"PRIMO","g":"TG0","x":4.19,"y":137.3},{"c":"PRIMO","g":"TG0","x":4.3,"y":128.7},{"c":"PRIMO","g":"TG0","x":4.37,"y":122},{"c":"PRIMO","g":"TG0","x":4.46,"y":104.1},{"c":"PRIMO","g":"TG0","x":4.54,"y":94.4},{"c":"PRIMO","g":"TG0","x":4.65,"y":84},
{"c":"PRIMO","g":"TG1","x":0,"y":147.7},{"c":"PRIMO","g":"TG1","x":0.22,"y":147.7},{"c":"PRIMO","g":"TG1","x":0.386,"y":146.1},{"c":"PRIMO","g":"TG1","x":0.566,"y":148.1},{"c":"PRIMO","g":"TG1","x":0.714,"y":148.5},{"c":"PRIMO","g":"TG1","x":0.878,"y":147.3},{"c":"PRIMO","g":"TG1","x":1.026,"y":145.7},{"c":"PRIMO","g":"TG1","x":1.17,"y":144.7},{"c":"PRIMO","g":"TG1","x":1.32,"y":143.1},{"c":"PRIMO","g":"TG1","x":1.45,"y":142.5},{"c":"PRIMO","g":"TG1","x":1.6,"y":140.2},{"c":"PRIMO","g":"TG1","x":1.73,"y":140.6},{"c":"PRIMO","g":"TG1","x":1.876,"y":141.6},{"c":"PRIMO","g":"TG1","x":2.06,"y":138.9},{"c":"PRIMO","g":"TG1","x":2.2,"y":137.3},{"c":"PRIMO","g":"TG1","x":2.35,"y":134.8},{"c":"PRIMO","g":"TG1","x":2.48,"y":135.4},{"c":"PRIMO","g":"TG1","x":2.78,"y":129.9},{"c":"PRIMO","g":"TG1","x":2.94,"y":129.3},{"c":"PRIMO","g":"TG1","x":3.07,"y":126.8},{"c":"PRIMO","g":"TG1","x":3.2,"y":125},{"c":"PRIMO","g":"TG1","x":3.4,"y":123.8},{"c":"PRIMO","g":"TG1","x":3.56,"y":121.3},{"c":"PRIMO","g":"TG1","x":3.76,"y":116.1},{"c":"PRIMO","g":"TG1","x":3.97,"y":109.6},{"c":"PRIMO","g":"TG1","x":4.17,"y":98.6},{"c":"PRIMO","g":"TG1","x":4.3,"y":86.3},{"c":"PRIMO","g":"TG1","x":4.43,"y":66.7},{"c":"PRIMO","g":"TG1","x":4.58,"y":49.4},{"c":"PRIMO","g":"TG1","x":4.72,"y":29.8},{"c":"PRIMO","g":"TG1","x":4.79,"y":23.6},{"c":"PRIMO","g":"TG1","x":4.9,"y":17.3},
{"c":"Acuros","g":"TG0","x":0.043,"y":199.6},{"c":"Acuros","g":"TG0","x":0.4,"y":198.7},{"c":"Acuros","g":"TG0","x":0.894,"y":196.5},{"c":"Acuros","g":"TG0","x":1.385,"y":193.8},{"c":"Acuros","g":"TG0","x":1.63,"y":191.4},{"c":"Acuros","g":"TG0","x":2.12,"y":187},{"c":"Acuros","g":"TG0","x":2.61,"y":181},{"c":"Acuros","g":"TG0","x":3.2,"y":172.9},{"c":"Acuros","g":"TG0","x":3.48,"y":167.4},{"c":"Acuros","g":"TG0","x":3.76,"y":162.5},{"c":"Acuros","g":"TG0","x":3.97,"y":155.7},{"c":"Acuros","g":"TG0","x":4.14,"y":147.7},{"c":"Acuros","g":"TG0","x":4.3,"y":135.4},{"c":"Acuros","g":"TG0","x":4.4,"y":123.8},{"c":"Acuros","g":"TG0","x":4.5,"y":109.6},{"c":"Acuros","g":"TG0","x":4.59,"y":92.5},{"c":"Acuros","g":"TG0","x":4.68,"y":75.2},{"c":"Acuros","g":"TG0","x":4.79,"y":54.3},{"c":"Acuros","g":"TG0","x":4.89,"y":40.8},{"c":"Acuros","g":"TG0","x":5,"y":28},
{"c":"Acuros","g":"TG1","x":0,"y":143.7},{"c":"Acuros","g":"TG1","x":0.4,"y":142},{"c":"Acuros","g":"TG1","x":0.894,"y":140.3},{"c":"Acuros","g":"TG1","x":1.385,"y":138.5},{"c":"Acuros","g":"TG1","x":1.63,"y":136.7},{"c":"Acuros","g":"TG1","x":2.12,"y":132.4},{"c":"Acuros","g":"TG1","x":2.45,"y":130.5},{"c":"Acuros","g":"TG1","x":2.78,"y":127.4},{"c":"Acuros","g":"TG1","x":3.2,"y":122.8},{"c":"Acuros","g":"TG1","x":3.61,"y":116.4},{"c":"Acuros","g":"TG1","x":3.81,"y":112.1},{"c":"Acuros","g":"TG1","x":4,"y":105.9},{"c":"Acuros","g":"TG1","x":4.2,"y":96.2},{"c":"Acuros","g":"TG1","x":4.33,"y":83.8},{"c":"Acuros","g":"TG1","x":4.46,"y":67.8},{"c":"Acuros","g":"TG1","x":4.59,"y":48.3},{"c":"Acuros","g":"TG1","x":4.71,"y":33.5},{"c":"Acuros","g":"TG1","x":4.86,"y":21.1},{"c":"Acuros","g":"TG1","x":5,"y":14.4}
]},
"hconcat":[
{"bounds":"flush","spacing":0,"vconcat":[
{"width":609.5,"height":72.5,"data":{"values":[{"x":-5.44,"y":0.5,"t":"[cm] Y"},{"x":5.58,"y":0.5,"t":"100% = 100 cGy"}]},"mark":{"type":"text","align":"right","baseline":"middle","font":"Liberation Sans","fontWeight":"bold","fontSize":25,"color":"#1a1a80"},"encoding":{"x":{"field":"x","type":"quantitative","axis":null,"scale":{"domain":[-6.22,5.58],"nice":false}},"y":{"field":"y","type":"quantitative","axis":null,"scale":{"domain":[0,1]}},"text":{"field":"t"}}},
{"width":609.5,"height":517.5,"resolve":{"axis":{"x":"independent","y":"independent"}},"layer":[
{"data":{"name":"heat"},"mark":{"type":"rect","width":21.2,"height":21.2,"clip":true},"encoding":{"x":{"field":"x","type":"quantitative","scale":{"domain":[-6.22,5.58],"nice":false,"zero":false},"axis":{"orient":"bottom","title":null,"tickCount":12,"tickSize":24,"tickWidth":2,"tickColor":"#222","domain":false,"labelExpr":"datum.value % 2 === 0 ? format(datum.value,'.1f') : ''","labelFont":"Liberation Sans","labelFontWeight":"bold","labelFontSize":25,"labelColor":"#1a1a80","labelPadding":10,"labelOverlap":false}},"y":{"field":"y","type":"quantitative","scale":{"domain":[-5.47,4.56],"nice":false,"zero":false},"axis":{"orient":"left","title":null,"tickCount":10,"tickSize":25,"tickWidth":2,"tickColor":"#222","domain":false,"format":".1f","labelFont":"Liberation Sans","labelFontWeight":"bold","labelFontSize":25,"labelColor":"#1a1a80","labelPadding":6,"labelOverlap":false}},"color":{"field":"v","type":"quantitative","legend":null,"scale":{"domain":[0,12.5,37.5,50,62.5,75,87.5,100],"range":["#000080","#0000ff","#00ffff","#80ff80","#ffff00","#ff8000","#ff0000","#900000"]}}}},
{"data":{"values":[{"x":0.445}]},"mark":{"type":"rule","color":"white","strokeWidth":3},"encoding":{"x":{"field":"x","type":"quantitative","axis":null,"scale":{"domain":[-6.22,5.58],"nice":false,"zero":false}}}},
{"data":{"values":[{"a":-6.22,"b":5.58,"c":4.56,"d":-5.47}]},"mark":{"type":"rect","fill":null,"stroke":"#222","strokeWidth":2.5},"encoding":{"x":{"field":"a","type":"quantitative","scale":{"domain":[-6.22,5.58],"nice":false,"zero":false},"axis":{"orient":"bottom","title":null,"tickCount":59,"tickSize":10,"tickWidth":2,"tickColor":"#222","domain":false,"labels":false}},"x2":{"field":"b"},"y":{"field":"c","type":"quantitative","scale":{"domain":[-5.47,4.56],"nice":false,"zero":false},"axis":{"orient":"left","title":null,"tickCount":50,"tickSize":10,"tickWidth":2,"tickColor":"#222","domain":false,"labels":false}},"y2":{"field":"d"}}},
{"data":{"values":[{"a":-6.15,"b":5.51,"c":4.49,"d":-5.4}]},"mark":{"type":"rect","fill":null,"stroke":"#000","strokeWidth":2.5},"encoding":{"x":{"field":"a","type":"quantitative","scale":{"domain":[-6.22,5.58],"nice":false,"zero":false},"axis":{"orient":"top","title":null,"tickCount":12,"tickSize":24,"tickWidth":2,"tickColor":"#222","domain":false,"labels":false}},"x2":{"field":"b"},"y":{"field":"c","type":"quantitative","scale":{"domain":[-5.47,4.56],"nice":false,"zero":false},"axis":{"orient":"right","title":null,"tickCount":10,"tickSize":24,"tickWidth":2,"tickColor":"#222","domain":false,"labels":false}},"y2":{"field":"d"}}},
{"data":{"values":[{"a":-6.15,"b":5.51,"c":4.49,"d":-5.4}]},"mark":{"type":"rect","fill":null,"stroke":"#2a8cf0","strokeWidth":2,"strokeDash":[6,6]},"encoding":{"x":{"field":"a","type":"quantitative","scale":{"domain":[-6.22,5.58],"nice":false,"zero":false},"axis":{"orient":"top","title":null,"tickCount":59,"tickSize":10,"tickWidth":2,"tickColor":"#222","domain":false,"labels":false}},"x2":{"field":"b"},"y":{"field":"c","type":"quantitative","scale":{"domain":[-5.47,4.56],"nice":false,"zero":false},"axis":{"orient":"right","title":null,"tickCount":50,"tickSize":10,"tickWidth":2,"tickColor":"#222","domain":false,"labels":false}},"y2":{"field":"d"}}},
{"data":{"values":[{"x":-6.12,"y":4.46},{"x":-0.37,"y":4.46},{"x":5.48,"y":4.46},{"x":-6.12,"y":-0.48},{"x":5.48,"y":-0.48},{"x":-6.12,"y":-5.37},{"x":-0.37,"y":-5.37},{"x":5.48,"y":-5.37}]},"mark":{"type":"point","shape":"square","filled":true,"color":"#000","size":70,"opacity":1},"encoding":{"x":{"field":"x","type":"quantitative","axis":null,"scale":{"domain":[-6.22,5.58],"nice":false,"zero":false}},"y":{"field":"y","type":"quantitative","axis":null,"scale":{"domain":[-5.47,4.56],"nice":false,"zero":false}}}},
{"data":{"values":[{"x":5.58,"y":-7.1,"t":"[cm] X"}]},"mark":{"type":"text","align":"right","baseline":"middle","font":"Liberation Sans","fontWeight":"bold","fontSize":25,"color":"#1a1a80"},"encoding":{"x":{"field":"x","type":"quantitative","axis":null,"scale":{"domain":[-6.22,5.58],"nice":false,"zero":false}},"y":{"field":"y","type":"quantitative","axis":null,"scale":{"domain":[-5.47,4.56],"nice":false,"zero":false}},"text":{"field":"t"}}},
{"data":{"values":[{"x":-0.21,"y":-10.85,"t":"(a)"}]},"mark":{"type":"text","align":"center","baseline":"middle","font":"Lato","fontSize":40,"color":"#000"},"encoding":{"x":{"field":"x","type":"quantitative","axis":null,"scale":{"domain":[-6.22,5.58],"nice":false,"zero":false}},"y":{"field":"y","type":"quantitative","axis":null,"scale":{"domain":[-5.47,4.56],"nice":false,"zero":false}},"text":{"field":"t"}}}
]}
]},
{"width":1018,"height":676.5,"view":{"stroke":"#c0c0c0","strokeWidth":2},"layer":[
{"data":{"name":"curves"},"mark":{"type":"line","interpolate":"monotone","strokeWidth":5.5,"strokeCap":"butt"},"encoding":{"x":{"field":"x","type":"quantitative","scale":{"domain":[0,5],"nice":false},"axis":{"title":"off-axis distance (cm)","titleFont":"Lato","titleFontSize":40,"titleFontWeight":"normal","titleX":543,"titleY":103,"titleBaseline":"middle","titleAlign":"center","values":[0,1,2,3,4,5],"format":"d","tickSize":-13,"tickWidth":2,"tickColor":"#888","domainColor":"#888","domainWidth":2.5,"labelFont":"Lato","labelFontSize":35,"labelColor":"#000","labelPadding":47,"labelFlush":false,"labelOverlap":false}},"y":{"field":"y","type":"quantitative","scale":{"domain":[0,250],"nice":false},"axis":{"title":"Dose(cGy)","titleFont":"Lato","titleFontSize":42,"titleFontWeight":"normal","titleX":-158,"titleY":343.5,"titleBaseline":"middle","titleAlign":"center","values":[0,50,100,150,200,250],"tickSize":-13,"tickWidth":2,"tickColor":"#888","domainColor":"#888","domainWidth":2.5,"labelFont":"Lato","labelFontSize":35,"labelColor":"#000","labelPadding":54,"labelOverlap":false}},"color":{"field":"c","type":"nominal","legend":null,"sort":null,"scale":{"domain":["Film","PRIMO","Acuros"],"range":["#00b050","#0070c0","#ff0000"]}},"detail":{"field":"g"}}},
{"data":{"values":[{"c":"Film","x":3.674,"x1":3.983,"y":226.4},{"c":"PRIMO","x":3.674,"x1":3.983,"y":206.9},{"c":"Acuros","x":3.674,"x1":3.983,"y":187.7}]},"mark":{"type":"rule","strokeWidth":6,"strokeCap":"round"},"encoding":{"x":{"field":"x","type":"quantitative"},"x2":{"field":"x1"},"y":{"field":"y","type":"quantitative"},"color":{"field":"c","type":"nominal","legend":null}}},
{"data":{"values":[{"x":4.01,"y":226.4,"t":"Film"},{"x":4.01,"y":206.9,"t":"PRIMO"},{"x":4.01,"y":187.7,"t":"Acuros"}]},"mark":{"type":"text","align":"left","baseline":"middle","font":"Lato","fontSize":37,"color":"#000"},"encoding":{"x":{"field":"x","type":"quantitative"},"y":{"field":"y","type":"quantitative"},"text":{"field":"t"}}},
{"data":{"values":[{"x":0.196,"y":220.5,"t":"Gap 30 TG0"},{"x":0.196,"y":119,"t":"Gap 30 TG1"},{"x":2.535,"y":-71,"t":"(b)"}]},"mark":{"type":"text","align":"left","baseline":"middle","font":"Lato","fontSize":38,"color":"#000"},"encoding":{"x":{"field":"x","type":"quantitative"},"y":{"field":"y","type":"quantitative"},"text":{"field":"t"}}}
]}
]}
